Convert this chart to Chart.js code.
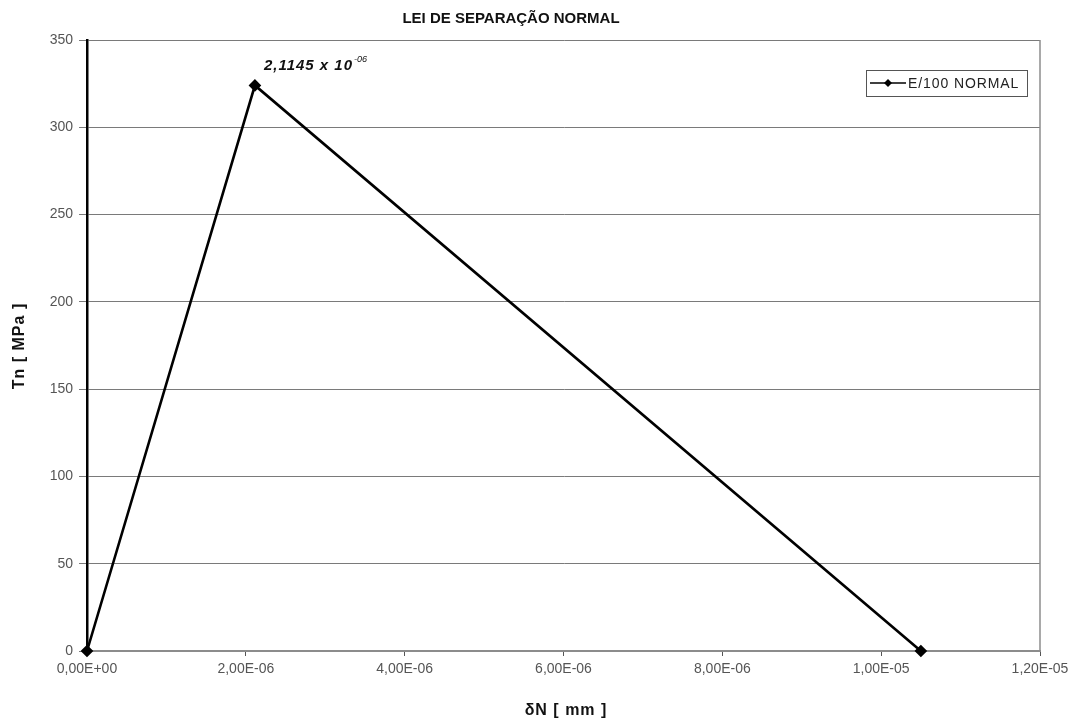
<!DOCTYPE html>
<html>
<head>
<meta charset="utf-8">
<title>Lei de separação normal</title>
<script src="https://cdn.jsdelivr.net/npm/chart.js@4"></script>
<style>
  html, body { margin: 0; padding: 0; background: #fff; }
  #wrap { width: 1084px; height: 722px; }
</style>
</head>
<body>
<div id="wrap"><canvas id="lei"></canvas></div>
<script>
// abertura normal (mm) e tensão normal (MPa)
const deltaN = [0, 2.1145e-6, 1.05e-5]
const tn = [0, 324, 0]
const xTicks = [0, 2e-6, 4e-6, 6e-6, 8e-6, 1e-5, 1.2e-5]
const yTicks = [0, 50, 100, 150, 200, 250, 300, 350]
const serie = 'E/100 NORMAL'
const titulo = 'LEI DE SEPARAÇÃO NORMAL'
const tituloX = 'δN [ mm ]'
const tituloY = 'Tn [ MPa ]'
const pico = '2,1145 x 10'
const picoExp = '-06'

const fonte = '"Liberation Sans", Arial, sans-serif'

// formato tipo Excel: 2,00E-06
function sci(v) {
  if (Math.abs(v) < 1e-12) return '0,00E+00'
  let [m, e] = v.toExponential(2).split('e')
  let n = parseInt(e, 10)
  let s = n < 0 ? '-' : '+'
  return m.replace('.', ',') + 'E' + s + String(Math.abs(n)).padStart(2, '0')
}

const textos = {
  id: 'textos',
  afterDraw(chart) {
    const c = chart.ctx
    const a = chart.chartArea
    const xs = chart.scales.x, ys = chart.scales.y
    c.save()
    // borda direita da área do gráfico
    c.strokeStyle = '#8c8c8c'
    c.lineWidth = 1.5
    c.beginPath()
    c.moveTo(a.right, a.top)
    c.lineTo(a.right, a.bottom)
    c.stroke()

    // título
    c.fillStyle = '#111'
    c.font = 'bold 15px ' + fonte
    c.textAlign = 'center'
    c.textBaseline = 'middle'
    c.fillText(titulo, 511, 19)

    // títulos dos eixos
    c.letterSpacing = '1px'
    c.font = 'bold 16px ' + fonte
    c.fillText(tituloX, 566, 711)
    c.save()
    c.translate(20, 346)
    c.rotate(-Math.PI / 2)
    c.fillText(tituloY, 0, 0)
    c.restore()

    // valor do pico
    const px = xs.getPixelForValue(deltaN[1])
    const py = ys.getPixelForValue(tn[1])
    c.letterSpacing = '1px'
    c.font = 'italic bold 15px ' + fonte
    c.textAlign = 'left'
    c.fillText(pico, px + 9, py - 20)
    const w = c.measureText(pico).width
    c.letterSpacing = '0px'
    c.font = 'italic 9px ' + fonte
    c.fillText(picoExp, px + 9 + w + 1, py - 26)

    // legenda
    const lx = 866, ly = 70, lw = 161, lh = 26
    c.fillStyle = '#fff'
    c.fillRect(lx, ly, lw, lh)
    c.strokeStyle = '#555'
    c.lineWidth = 1
    c.strokeRect(lx + 0.5, ly + 0.5, lw, lh)
    c.strokeStyle = '#000'
    c.lineWidth = 1.5
    c.beginPath()
    c.moveTo(lx + 4, ly + 13)
    c.lineTo(lx + 40, ly + 13)
    c.stroke()
    c.fillStyle = '#000'
    c.beginPath()
    c.moveTo(lx + 22, ly + 9)
    c.lineTo(lx + 26, ly + 13)
    c.lineTo(lx + 22, ly + 17)
    c.lineTo(lx + 18, ly + 13)
    c.closePath()
    c.fill()
    c.fillStyle = '#222'
    c.letterSpacing = '0.9px'
    c.font = '14px ' + fonte
    c.textBaseline = 'middle'
    c.fillText(serie, lx + 42, ly + 14)
    c.restore()
  }
}

new Chart(document.getElementById('lei'), {
  type: 'scatter',
  data: {
    datasets: [{
      label: serie,
      data: deltaN.map((x, i) => ({ x: x, y: tn[i] })),
      showLine: true,
      borderColor: '#000',
      backgroundColor: '#000',
      borderWidth: 2.6,
      pointStyle: 'rectRot',
      pointRadius: 4.5,
      pointHoverRadius: 4.5,
      clip: false
    }]
  },
  options: {
    responsive: true,
    maintainAspectRatio: false,
    animation: false,
    layout: { padding: { top: 40, right: 44, left: 0, bottom: 0 } },
    plugins: {
      legend: { display: false },
      title: { display: false },
      tooltip: { enabled: false }
    },
    scales: {
      x: {
        type: 'linear',
        min: 0,
        max: 1.2e-5,
        afterBuildTicks: s => { s.ticks = xTicks.map(v => ({ value: v })) },
        afterFit: s => { s.height = 71 },
        grid: { display: true, drawOnChartArea: false, color: '#555', tickLength: 5 },
        border: { color: '#8c8c8c', width: 2 },
        ticks: {
          color: '#555',
          font: { family: fonte, size: 14 },
          padding: 5,
          maxRotation: 0,
          callback: v => sci(v)
        }
      },
      y: {
        min: 0,
        max: 350,
        afterBuildTicks: s => { s.ticks = yTicks.map(v => ({ value: v })) },
        afterFit: s => { s.width = 87 },
        grid: { color: '#7a7a7a', lineWidth: 1, tickLength: 8 },
        border: { color: '#000', width: 2.5 },
        ticks: {
          color: '#555',
          font: { family: fonte, size: 14 },
          padding: 6
        }
      }
    }
  },
  plugins: [textos]
})
</script>
</body>
</html>
